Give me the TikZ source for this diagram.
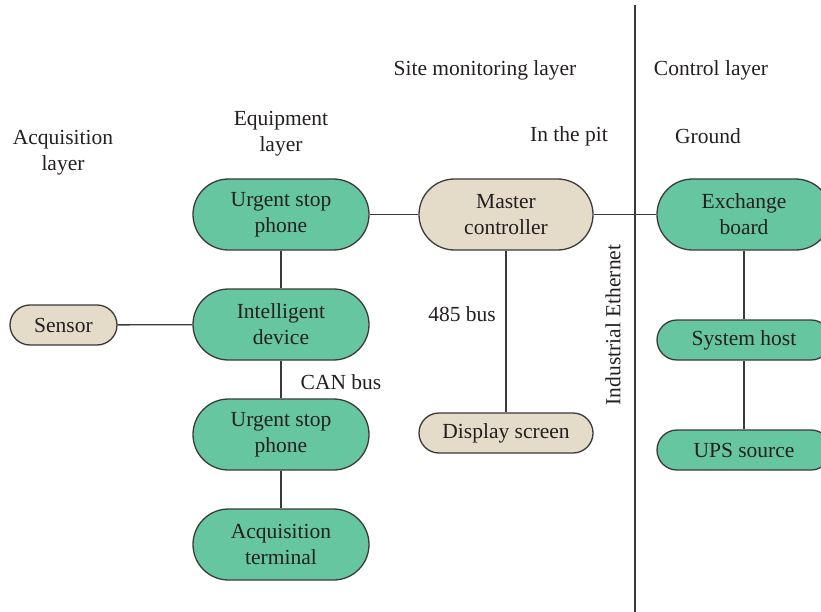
\documentclass[tikz,border=0pt]{standalone}
\usepackage{fontspec}
\setmainfont{Liberation Serif}
\definecolor{grn}{HTML}{66C6A0}
\definecolor{bge}{HTML}{E4DCC9}
\definecolor{txt}{HTML}{231F20}
\definecolor{ln}{HTML}{3A3A3A}
\begin{document}
\begin{tikzpicture}[x=1pt,y=-1pt,
  every node/.style={font=\fontsize{21.5}{26}\selectfont,text=txt,align=center,inner sep=0pt},
  big/.style={draw=ln,line width=1.3pt,minimum width=176pt,minimum height=71pt,rounded corners=35.5pt,
    execute at begin node={\rule{0pt}{22pt}}},
  small/.style={draw=ln,line width=1.3pt,minimum height=40pt,rounded corners=20pt},
  gbox/.style={fill=grn},
  bbox/.style={fill=bge},
  conn/.style={draw=ln,line width=1.3pt},
  lbl/.style={}
]
\useasboundingbox (0,0) rectangle (821,612);
\clip (0,0) rectangle (821,612);
% divider
\coordinate (dtop) at (635,5);
\coordinate (dbot) at (635,612);
\draw[conn] (dtop) -- (dbot);

\node[big,gbox] (usp1) at (281,214.5) {Urgent stop\\phone};
\node[big,gbox] (intd) at (281,324.5) {Intelligent\\device};
\node[big,gbox] (usp2) at (281,434.5) {Urgent stop\\phone};
\node[big,gbox] (acqt) at (281,544.5) {Acquisition\\terminal};
\node[small,bbox,minimum width=107pt] (sens) at (63.5,325) {Sensor};
\node[big,bbox,minimum width=174pt] (mast) at (506,214.5) {Master\\controller};
\node[small,bbox,minimum width=174pt] (disp) at (506,433) {Display screen};
\node[big,gbox,minimum width=174pt] (exch) at (744,214.5) {Exchange\\board};
\node[small,gbox,minimum width=174pt] (host) at (744,340) {System host};
\node[small,gbox,minimum width=174pt] (ups) at (744,450) {UPS source};

\draw[conn] (usp1) -- (intd);
\draw[conn] (intd) -- (usp2);
\draw[conn] (usp2) -- (acqt);
\draw[conn] (sens) -- (intd);
\draw[conn] (usp1) -- (mast);
\draw[conn] (mast) -- (exch);
\draw[conn] (mast) -- (disp);
\draw[conn] (exch) -- (host);
\draw[conn] (host) -- (ups);

\node[lbl] (lacq) at (63,153) {Acquisition\\layer};
\node[lbl] (lequ) at (281,134) {Equipment\\layer};
\node[lbl] (lsite) at (485,70) {Site monitoring layer};
\node[lbl] (lctl) at (711,70) {Control layer};
\node[lbl] (lpit) at (569,136) {In the pit};
\node[lbl] (lgnd) at (708,136) {Ground};
\node[lbl] (l485) at (462,314) {485 bus};
\node[lbl] (lcan) at (341,382) {CAN bus};
\node[lbl,rotate=90] (leth) at (613,325) {Industrial Ethernet};
\end{tikzpicture}
\end{document}
